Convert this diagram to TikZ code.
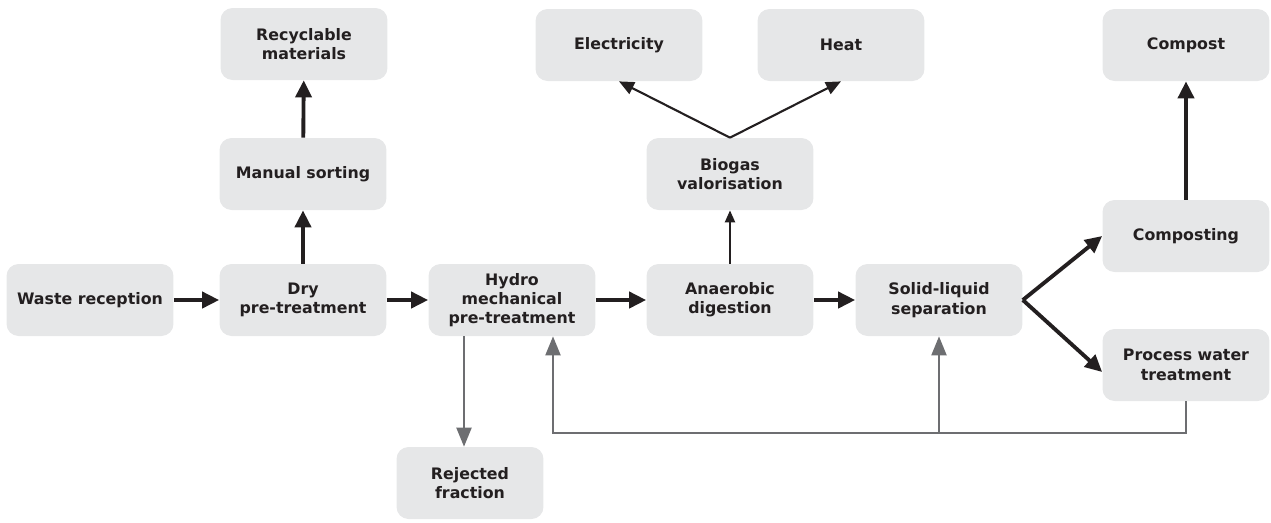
\documentclass[tikz,border=0pt]{standalone}
\usepackage{xcolor}
\usepackage{fontspec}
\setmainfont{DejaVu Sans}
\usepackage{tikz}
\usetikzlibrary{shapes, arrows.meta, positioning}

\definecolor{boxgray}{HTML}{E6E7E8}
\definecolor{inkdark}{HTML}{231F20}
\definecolor{linegray}{HTML}{6D6E71}

\tikzset{
  stage/.style={rectangle, rounded corners=0.24cm, fill=boxgray, minimum width=3.34cm, minimum height=1.44cm,
    align=center, text=inkdark, font=\bfseries\fontsize{9}{11}\selectfont},
  flow/.style={draw=inkdark, line width=2.2pt, -{Triangle[length=0.34cm, width=0.32cm]}},
  thinflow/.style={draw=inkdark, line width=1.2pt, -{Triangle[length=0.3cm, width=0.26cm]}},
  back/.style={draw=linegray, line width=1.2pt, -{Triangle[length=0.38cm, width=0.3cm]}}
}

\begin{document}
\begin{tikzpicture}[x=0.02cm, y=-0.02cm]
            \useasboundingbox (0,0) rectangle (1271,522);
            % stages
            \node[stage] (waste) at (90,300) {Waste reception};
            \node[stage] (dry) at (303,300) {Dry\\pre-treatment};
            \node[stage] (manual) at (303,174) {Manual sorting};
            \node[stage] (recycle) at (304,44) {Recyclable\\materials};
            \node[stage] (hydro) at (512,300) {Hydro\\mechanical\\pre-treatment};
            \node[stage, minimum width=2.94cm] (reject) at (470,483) {Rejected\\fraction};
            \node[stage] (anaerobic) at (730,300) {Anaerobic\\digestion};
            \node[stage] (biogas) at (730,174) {Biogas\\valorisation};
            \node[stage] (elec) at (619,45) {Electricity};
            \node[stage] (heat) at (841,45) {Heat};
            \node[stage] (solid) at (939,300) {Solid-liquid\\separation};
            \node[stage] (composting) at (1186,236) {Composting};
            \node[stage] (water) at (1186,365) {Process water\\treatment};
            \node[stage] (compost) at (1186,45) {Compost};
            % main flow
            \draw[flow] (waste) -- (dry);
            \draw[flow] (dry) -- (hydro);
            \draw[flow] (hydro) -- (anaerobic);
            \draw[flow] (anaerobic) -- (solid);
            \draw[flow] (dry) -- (manual);
            \draw[flow] (manual) -- (recycle);
            \draw[thinflow, -{Triangle[length=0.24cm, width=0.2cm]}] (anaerobic) -- (biogas);
            \draw[thinflow] (biogas.north) -- (elec.south);
            \draw[thinflow] (biogas.north) -- (heat.south);
            \draw[flow] (solid.east) -- (composting.west);
            \draw[flow] (solid.east) -- ([yshift=-0.14cm]water.west);
            \draw[flow] (composting) -- (compost);
            % return lines
            \coordinate (retL) at (553,433);
            \coordinate (retM) at (939,433);
            \draw[back] ([xshift=-0.12cm]hydro.south -| reject.north) -- ([xshift=-0.12cm]reject.north);
            \draw[back] (water.south) |- (retL) -- (retL |- hydro.south);
            \draw[back] (retM) -- (solid.south);
        \end{tikzpicture}
\end{document}
